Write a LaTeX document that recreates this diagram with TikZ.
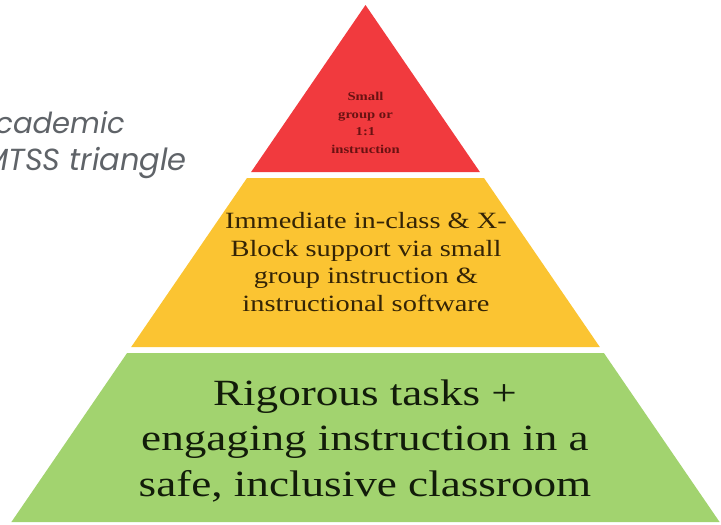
\documentclass[tikz,border=0pt]{standalone}
\usepackage{fontspec}
\usepackage{xcolor}
\newfontfamily\stufenfont[FakeStretch=1.22]{Liberation Serif}
\newfontfamily\titelfont{Poppins}
\definecolor{myred}{RGB}{241,58,62}
\definecolor{myyellow}{RGB}{251,196,50}
\definecolor{mygreen}{RGB}{162,211,111}
\definecolor{mygray}{RGB}{95,99,104}
\definecolor{redtext}{RGB}{105,18,18}
\definecolor{yellowtext}{RGB}{52,36,6}
\definecolor{greentext}{RGB}{18,28,10}

\begin{document}
\begin{tikzpicture}[x=1pt,y=-1pt,inner sep=0pt]
\useasboundingbox (0,0) rectangle (721,525);
\clip (0,0) rectangle (721,525);

%Titel links (abgeschnitten)
\node[anchor=base east, text=mygray, font=\titelfont\itshape\fontsize{29}{34}\selectfont] (titelA) at (125,133) {Academic};
\node[anchor=base east, text=mygray, font=\titelfont\itshape\fontsize{30.5}{34}\selectfont] (titelB) at (187,170) {MTSS triangle};

%Pyramide, drei Stufen
\path[fill=myred] plot coordinates {(365.5,5) (479.9,172) (251.1,172)};
\path[fill=myyellow] plot coordinates {(247.0,178) (484.0,178) (599.8,347) (131.2,347)};
\path[fill=mygreen] plot coordinates {(127.1,353) (603.9,353) (719.6,522) (11.4,522)};

%Beschriftung der Stufen
\node[align=center, text=redtext, font=\stufenfont\bfseries\fontsize{12}{17.7}\selectfont] (stufe3) at (365.5,123) {Small\\group or\\1:1\\instruction};
\node[align=center, text=yellowtext, font=\stufenfont\fontsize{23.3}{27.7}\selectfont] (stufe2) at (366,262) {Immediate in-class \& X-\\Block support via small\\group instruction \&\\instructional software};
\node[align=center, text=greentext, font=\stufenfont\fontsize{37}{45.5}\selectfont] (stufe1) at (365,441) {Rigorous tasks +\\engaging instruction in a\\safe, inclusive classroom};

\end{tikzpicture}
\end{document}
